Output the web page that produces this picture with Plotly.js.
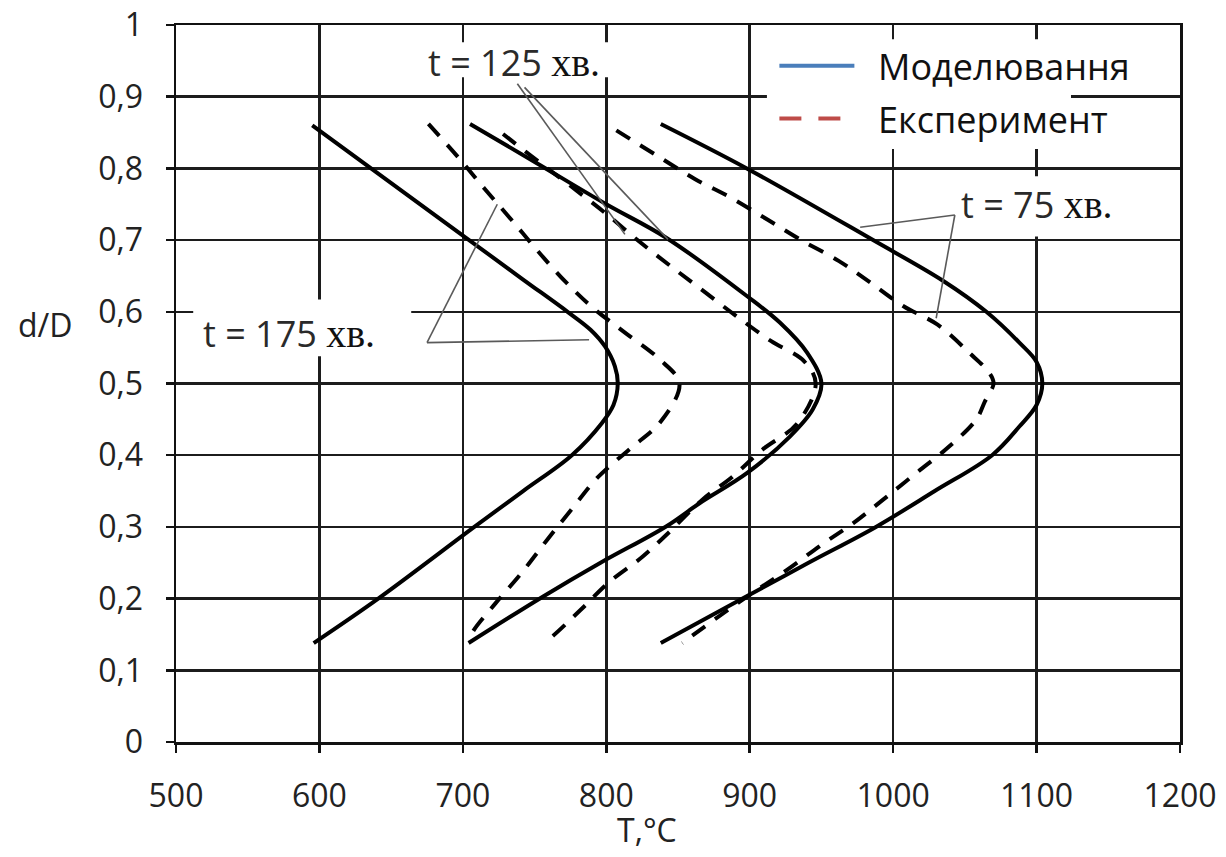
<!DOCTYPE html>
<html><head><meta charset="utf-8">
<script src="https://cdn.plot.ly/plotly-3.0.1.min.js"></script>
<style>html,body{margin:0;padding:0;background:#fff}</style>
</head><body><div id="chart" style="width:1226px;height:857px"></div>
<script>
// ---- data (T in °C, d/D) ----
const sim175T = [595, 701, 742, 773, 789, 799, 806, 808, 805, 797, 776, 742, 708, 641, 596];
const sim175D = [0.860, 0.705, 0.645, 0.600, 0.575, 0.552, 0.524, 0.500, 0.470, 0.445, 0.400, 0.350, 0.300, 0.200, 0.138];
const exp175T = [676, 697, 715, 734, 753, 772, 791, 813, 837, 851, 838, 816, 794, 776, 758, 741, 723, 707, 704];
const exp175D = [0.862, 0.815, 0.772, 0.728, 0.683, 0.641, 0.605, 0.571, 0.534, 0.500, 0.447, 0.408, 0.369, 0.325, 0.280, 0.236, 0.194, 0.154, 0.140];
const sim125T = [705, 751, 800, 842, 898, 921, 940, 950, 944, 928, 898, 865, 842, 796, 756, 704];
const sim125D = [0.862, 0.808, 0.750, 0.703, 0.622, 0.585, 0.543, 0.500, 0.464, 0.426, 0.375, 0.333, 0.301, 0.250, 0.203, 0.138];
const exp125T = [728, 755, 780, 801, 823, 846, 869, 892, 915, 938, 946, 933, 909, 888, 867, 844, 825, 802, 782, 761, 757];
const exp125D = [0.848, 0.806, 0.768, 0.735, 0.698, 0.662, 0.627, 0.592, 0.559, 0.531, 0.500, 0.444, 0.408, 0.370, 0.338, 0.293, 0.258, 0.223, 0.184, 0.145, 0.140];
const sim75T = [838, 898, 986, 1035, 1065, 1088, 1100, 1104, 1100, 1088, 1069, 1029, 988, 941, 895, 838];
const sim75D = [0.862, 0.800, 0.700, 0.643, 0.600, 0.557, 0.530, 0.500, 0.470, 0.440, 0.400, 0.350, 0.300, 0.250, 0.200, 0.138];
const exp75T = [807, 836, 862, 887, 912, 935, 962, 984, 1007, 1031, 1053, 1067, 1070, 1064, 1058, 1039, 1016, 993, 972, 950, 926, 902, 879, 853];
const exp75D = [0.853, 0.817, 0.785, 0.759, 0.729, 0.701, 0.671, 0.641, 0.608, 0.582, 0.543, 0.515, 0.500, 0.475, 0.450, 0.412, 0.375, 0.338, 0.305, 0.275, 0.240, 0.208, 0.176, 0.138];

const xTickVals = [500, 600, 700, 800, 900, 1000, 1100, 1200];
const xTickText = ['500', '600', '700', '800', '900', '1000', '1100', '1200'];
const yTickVals = [0, 0.1, 0.2, 0.3, 0.4, 0.5, 0.6, 0.7, 0.8, 0.9, 1];
const yTickText = ['0', '0,1', '0,2', '0,3', '0,4', '0,5', '0,6', '0,7', '0,8', '0,9', '1'];

const legendNames = ['Моделювання', 'Експеримент'];
const curveLabels = ['t = 175 ', 't = 125 ', 't = 75 '];
const unitLabel = 'хв.';

// label positions and leader lines (data units)
const labelPos = [[579, 0.570], [736, 0.948], [1100, 0.750]];
const leaders = [
  [[675, 0.557], [724, 0.750]], [[675, 0.557], [788, 0.561]],
  [[738, 0.918], [813, 0.708]], [[743, 0.913], [843, 0.701]],
  [[1043, 0.735], [977, 0.718]], [[1043, 0.735], [1030, 0.591]]
];
const whiteBoxes = [[512, 664, 0.538, 0.617], [663, 813, 0.927, 0.976], [1036, 1165, 0.705, 0.789], [912, 1124, 0.827, 0.980]];

const SOLID = {color: '#000', width: 4, shape: 'spline', smoothing: 1};
const DASH = {color: '#000', width: 4, shape: 'spline', smoothing: 1, dash: '16px,12px'};
function curve(x, y, line) {
  return {x: x, y: y, mode: 'lines', line: line, showlegend: false, hoverinfo: 'skip'};
}
const traces = [
  curve(sim175T, sim175D, SOLID), curve(exp175T, exp175D, DASH),
  curve(sim125T, sim125D, SOLID), curve(exp125T, exp125D, DASH),
  curve(sim75T, sim75D, SOLID), curve(exp75T, exp75D, DASH),
  {x: [null], y: [null], mode: 'lines', name: '\u00a0\u00a0' + legendNames[0], legendgroup: 'a',
   line: {color: '#4a7ebb', width: 4}},
  {x: [null], y: [null], mode: 'lines', name: '\u00a0\u00a0' + legendNames[1], legendgroup: 'b',
   line: {color: '#be4b48', width: 4, dash: '22px,17px'}}
];

const shapes = [];
whiteBoxes.forEach(b => shapes.push({type: 'rect', xref: 'x', yref: 'y', x0: b[0], x1: b[1], y0: b[2], y1: b[3],
  fillcolor: '#fff', line: {width: 0}, layer: 'between'}));
leaders.forEach(l => shapes.push({type: 'line', xref: 'x', yref: 'y', x0: l[0][0], y0: l[0][1], x1: l[1][0], y1: l[1][1],
  line: {color: '#5a5a5a', width: 1.6}, layer: 'above'}));

const annotations = curveLabels.map((t, i) => ({
  x: labelPos[i][0], y: labelPos[i][1], xref: 'x', yref: 'y', showarrow: false,
  text: t + '<span style="font-family:\'Liberation Serif\';font-size:40px;fill:#111">' + unitLabel + '</span>',
  font: {family: 'Open Sans', size: 36, color: '#2a2a2a'}, xanchor: 'center', yanchor: 'middle'
}));
annotations.push({x: -0.1304, y: 0.5816, xref: 'paper', yref: 'paper', showarrow: false, text: 'd/D',
  font: {family: 'Open Sans', size: 32, color: '#222'}, xanchor: 'center', yanchor: 'middle'});
annotations.push({x: 0.469, y: -0.1227, xref: 'paper', yref: 'paper', showarrow: false, text: 'T,°C',
  font: {family: 'Open Sans', size: 32, color: '#222'}, xanchor: 'center', yanchor: 'middle'});

const axisCommon = {showline: true, linecolor: '#111', linewidth: 2.5, mirror: true,
  showgrid: true, gridcolor: '#1c1c1c', gridwidth: 2.5, zeroline: false,
  ticks: 'outside', ticklen: 8, tickwidth: 2.5, tickcolor: '#111',
  tickfont: {family: 'Open Sans', size: 32, color: '#222'}, tickmode: 'array'};

const layout = {
  width: 1226, height: 857,
  margin: {l: 176, r: 46, t: 25, b: 115},
  paper_bgcolor: '#fff', plot_bgcolor: '#fff',
  xaxis: Object.assign({}, axisCommon, {range: [500, 1200], tickvals: xTickVals, ticktext: xTickText, ticklabelstandoff: 16}),
  yaxis: Object.assign({}, axisCommon, {range: [0, 1], tickvals: yTickVals, ticktext: yTickText, ticklabelstandoff: 16}),
  showlegend: true,
  legend: {x: 0.596, y: 0.985, xanchor: 'left', yanchor: 'top', bgcolor: 'rgba(0,0,0,0)',
    font: {family: 'Open Sans', size: 36, color: '#111'}, itemwidth: 75, traceorder: 'grouped', tracegroupgap: 3},
  shapes: shapes, annotations: annotations
};
Plotly.newPlot('chart', traces, layout, {displayModeBar: false, staticPlot: true});
</script></body></html>
